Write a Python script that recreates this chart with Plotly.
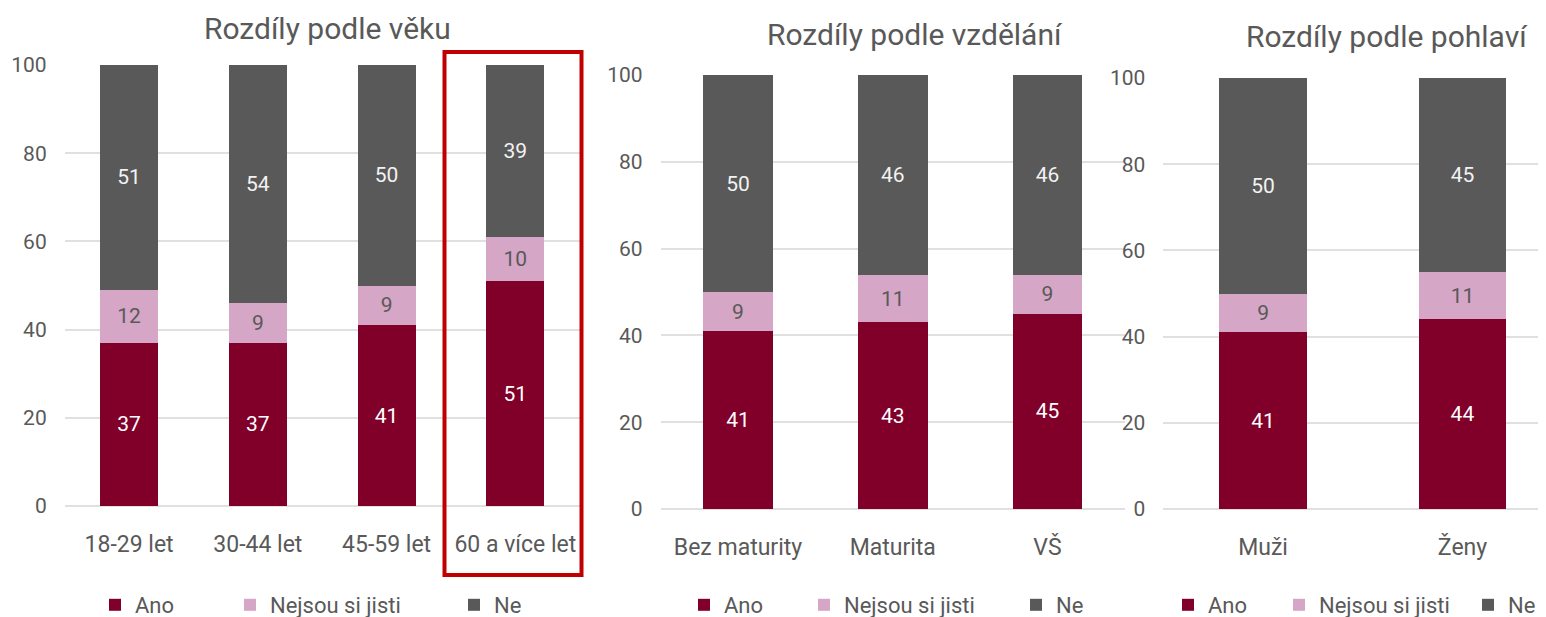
import plotly.graph_objects as go

W, H = 1546, 617
OFF = 8  # page body margin offset of the rendered div

# ---- data ----
age_cats = ["18-29 let", "30-44 let", "45-59 let", "60 a více let"]
age_ano = [37, 37, 41, 51]
age_nejsou = [12, 9, 9, 10]
age_ne = [51, 54, 50, 39]

edu_cats = ["Bez maturity", "Maturita", "VŠ"]
edu_ano = [41, 43, 45]
edu_nejsou = [9, 11, 9]
edu_ne = [50, 46, 46]

sex_cats = ["Muži", "Ženy"]
sex_ano = [41, 44]
sex_nejsou = [9, 11]
sex_ne = [50, 45]

series_names = ["Ano", "Nejsou si jisti", "Ne"]
panel_titles = ["Rozdíly podle věku", "Rozdíly podle vzdělání", "Rozdíly podle pohlaví"]
y_ticks = [0, 20, 40, 60, 80, 100]

# ---- style ----
FONT = "Roboto, Liberation Sans, sans-serif"
GRAY = "#595959"
COLORS = ["#80002a", "#d5a6c5", "#595959"]
LABEL_COLORS = ["#ffffff", "#595959", "#f2f2f2"]

def px_x(v):
    return (v - OFF) / W

def px_y(v):
    return 1 - (v - OFF) / H

panels = [
    dict(cats=age_cats, vals=[age_ano, age_nejsou, age_ne], left=64.7, right=579.7,
         y0=506, y100=65, rng=[-0.5, 3.5], width=0.45,
         title_x=327, title_y=29,
         leg=[114, 249, 473]),
    dict(cats=edu_cats, vals=[edu_ano, edu_nejsou, edu_ne], left=660.6, right=1124.9,
         y0=509, y100=75, rng=[-0.5, 2.5], width=0.45,
         title_x=915, title_y=34,
         leg=[703, 823, 1035]),
    dict(cats=sex_cats, vals=[sex_ano, sex_nejsou, sex_ne], left=1163.3, right=1546,
         y0=509, y100=78, rng=[-0.5, 1.4185], width=0.44,
         title_x=1387, title_y=37,
         leg=[1187, 1298, 1487]),
]

fig = go.Figure()
layout = dict(
    width=W, height=H,
    margin=dict(l=0, r=0, t=0, b=0, autoexpand=False),
    paper_bgcolor="white", plot_bgcolor="white",
    barmode="stack",
    font=dict(family=FONT, color=GRAY, size=22),
    annotations=[], shapes=[],
)

leg_idx = 0
for p_i, p in enumerate(panels):
    suffix = "" if p_i == 0 else str(p_i + 1)
    xa, ya = "x" + suffix, "y" + suffix
    right = min(px_x(p["right"]), 1.0)
    for s_i, name in enumerate(series_names):
        leg_idx += 1
        legname = "legend" if leg_idx == 1 else f"legend{leg_idx}"
        fig.add_trace(go.Bar(
            x=p["cats"], y=p["vals"][s_i], name=name,
            marker=dict(color=COLORS[s_i], line=dict(width=0)),
            width=p["width"],
            text=[str(v) for v in p["vals"][s_i]],
            textposition="inside", insidetextanchor="middle", textangle=0,
            constraintext="none",
            textfont=dict(color=LABEL_COLORS[s_i], size=21, family=FONT),
            xaxis=xa, yaxis=ya, legend=legname, showlegend=True,
            hoverinfo="skip",
        ))
        layout[legname] = dict(
            orientation="h", x=px_x(p["leg"][s_i] - 19), xanchor="left",
            y=px_y(605), yanchor="middle",
            font=dict(size=22, color=GRAY, family=FONT),
            bgcolor="rgba(0,0,0,0)", borderwidth=0,
            itemclick=False, itemdoubleclick=False,
        )
    layout["xaxis" + suffix] = dict(
        domain=[px_x(p["left"]), right], range=p["rng"],
        anchor=ya, type="category", showgrid=False, showline=False, zeroline=False,
        ticks="", tickfont=dict(size=23, color=GRAY), ticklabelstandoff=22,
        fixedrange=True,
    )
    layout["yaxis" + suffix] = dict(
        domain=[px_y(p["y0"]), px_y(p["y100"])], range=[0, 100],
        anchor=xa, tickvals=y_ticks, showgrid=True, gridcolor="#e0e0e0", gridwidth=1.5,
        zeroline=True, zerolinecolor="#e0e0e0", zerolinewidth=1.5, showline=False,
        ticks="", tickfont=dict(size=21, color=GRAY), ticklabelstandoff=17,
        fixedrange=True,
    )
    layout["annotations"].append(dict(
        text=panel_titles[p_i], xref="paper", yref="paper",
        x=px_x(p["title_x"]), y=px_y(p["title_y"]), xanchor="center", yanchor="middle",
        showarrow=False, font=dict(size=30, color=GRAY, family=FONT),
    ))

# highlight box around the last age category (decoration, in page pixels)
layout["shapes"].append(dict(
    type="rect", xref="paper", yref="paper",
    x0=px_x(444.5), x1=px_x(581.5), y0=px_y(575), y1=px_y(52),
    line=dict(color="#c00000", width=4), fillcolor="rgba(0,0,0,0)",
))

fig.update_layout(**layout)
fig.write_html("out.html")
